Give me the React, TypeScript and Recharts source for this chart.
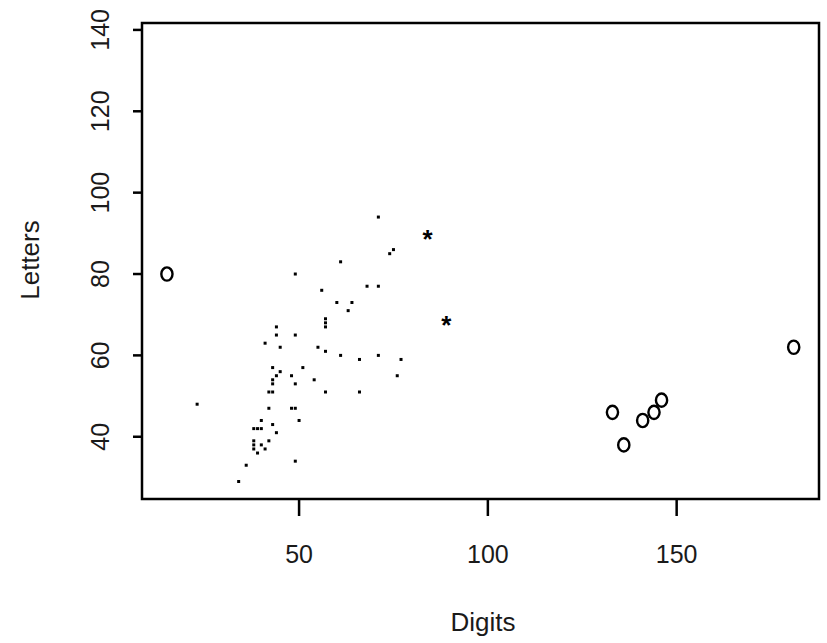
import React from "react";
import { ScatterChart, Scatter, XAxis, YAxis, ReferenceArea, Label } from "recharts";

// pch "." points
const dotDigits = [49, 56, 57, 57, 57, 44, 44, 49, 41, 45, 55, 57, 43, 51, 45, 44, 48, 43, 43, 49, 54, 57, 42, 43, 23, 42, 48, 49, 40, 50, 43, 38, 39, 40, 44, 42, 38, 38, 40, 38, 41, 39, 49, 36, 34, 71, 75, 74, 61, 68, 71, 60, 64, 63, 61, 66, 71, 77, 76, 66];
const dotLetters = [80, 76, 69, 68, 67, 67, 65, 65, 63, 62, 62, 61, 57, 57, 56, 55, 55, 54, 53, 53, 54, 51, 51, 51, 48, 47, 47, 47, 44, 44, 43, 42, 42, 42, 41, 39, 39, 38, 38, 37, 37, 36, 34, 33, 29, 94, 86, 85, 83, 77, 77, 73, 73, 71, 60, 59, 60, 59, 55, 51];

// pch "*" points
const starDigits = [84, 89];
const starLetters = [89, 68];

// pch "o" points
const ringDigits = [15, 133, 136, 141, 144, 146, 181];
const ringLetters = [80, 46, 38, 44, 46, 49, 62];

const xTicks = [50, 100, 150];
const yTicks = [40, 60, 80, 100, 120, 140];
const xDomain = [8.4, 187.7];
const yDomain = [24.7, 141.7];

const toPoints = (xs: number[], ys: number[]) => xs.map((d, i) => ({ digits: d, letters: ys[i] }));

const dots = toPoints(dotDigits, dotLetters);
const stars = toPoints(starDigits, starLetters);
const rings = toPoints(ringDigits, ringLetters);

const FONT = "'Liberation Sans', Arial, sans-serif";
const INK = "#1a1a1a";

const DotShape = (props: any) => (
    <rect x={props.cx - 1.5} y={props.cy - 1.5} width={3} height={3} fill="#000" />
);

const StarShape = (props: any) => (
    <text x={props.cx} y={props.cy + 11} textAnchor="middle" fontFamily={FONT} fontSize={26} fontWeight={700} fill="#000">
        *
    </text>
);

const RingShape = (props: any) => (
    <ellipse cx={props.cx} cy={props.cy} rx={5.6} ry={6.6} fill="none" stroke="#000" strokeWidth={2.4} />
);

const YTick = (props: any) => {
    const { x, y, payload } = props;
    const bx = x - 22;
    return (
        <text x={bx} y={y} transform={`rotate(-90, ${bx}, ${y})`} textAnchor="middle" fontFamily={FONT} fontSize={25} fill={INK}>
            {payload.value}
        </text>
    );
};

export default function App() {
    return (
        <div style={{ position: "absolute", left: 0, top: 0, background: "#fff" }}>
            <ScatterChart width={827} height={643} margin={{ top: 23, right: 8, bottom: 0, left: 0 }}>
                <XAxis
                    type="number"
                    dataKey="digits"
                    domain={xDomain}
                    ticks={xTicks}
                    allowDataOverflow
                    height={144}
                    tickSize={17}
                    tickMargin={29}
                    axisLine={false}
                    tickLine={{ stroke: "#000", strokeWidth: 2.5 }}
                    tick={{ fill: INK, fontSize: 25, fontFamily: FONT }}
                >
                    <Label
                        content={() => (
                            <text x={483} y={631} textAnchor="middle" fontFamily={FONT} fontSize={26} fill={INK}>
                                Digits
                            </text>
                        )}
                    />
                </XAxis>
                <YAxis
                    type="number"
                    dataKey="letters"
                    domain={yDomain}
                    ticks={yTicks}
                    allowDataOverflow
                    width={142}
                    tickSize={9}
                    axisLine={false}
                    tickLine={{ stroke: "#000", strokeWidth: 2.5 }}
                    tick={<YTick />}
                >
                    <Label
                        content={() => (
                            <text x={39} y={260} transform="rotate(-90, 39, 260)" textAnchor="middle" fontFamily={FONT} fontSize={26} fill={INK}>
                                Letters
                            </text>
                        )}
                    />
                </YAxis>
                <ReferenceArea
                    x1={xDomain[0]}
                    x2={xDomain[1]}
                    y1={yDomain[0]}
                    y2={yDomain[1]}
                    fill="none"
                    fillOpacity={0}
                    stroke="#000"
                    strokeWidth={2.5}
                    ifOverflow="visible"
                />
                <Scatter data={dots} shape={<DotShape />} isAnimationActive={false} />
                <Scatter data={stars} shape={<StarShape />} isAnimationActive={false} />
                <Scatter data={rings} shape={<RingShape />} isAnimationActive={false} />
            </ScatterChart>
        </div>
    );
}
